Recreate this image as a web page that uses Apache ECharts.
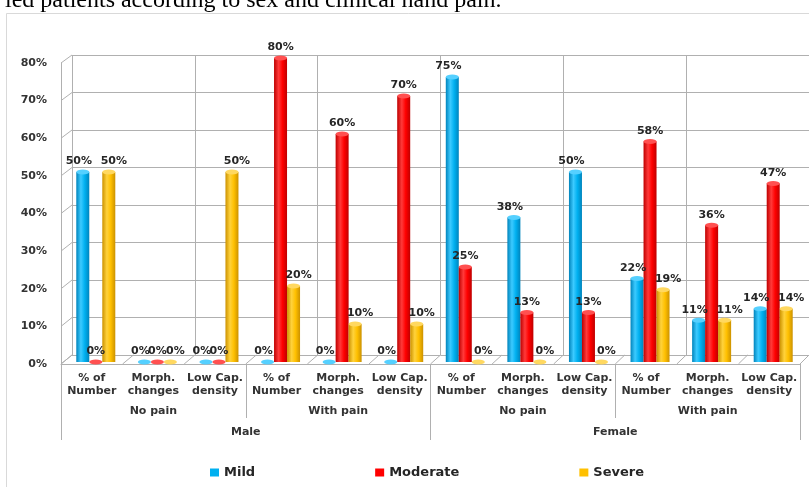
<!DOCTYPE html>
<html>
<head>
<meta charset="utf-8">
<script src="https://cdn.jsdelivr.net/npm/echarts@6/dist/echarts.min.js"></script>
<style>
html,body{margin:0;padding:0;background:#fff;}
#chart{width:809px;height:487px;}
</style>
</head>
<body>
<div id="chart"></div>
<script>
// ---- data ----
const categories = ['% of\nNumber','Morph.\nchanges','Low Cap.\ndensity',
                    '% of\nNumber','Morph.\nchanges','Low Cap.\ndensity',
                    '% of\nNumber','Morph.\nchanges','Low Cap.\ndensity',
                    '% of\nNumber','Morph.\nchanges','Low Cap.\ndensity'];
const painGroups = ['No pain','With pain','No pain','With pain'];
const sexGroups = ['Male','Female'];
const seriesNames = ['Mild','Moderate','Severe'];
const mild     = [50, 0, 0,   0,  0,  0,  75, 38, 50,  22, 11, 14];
const moderate = [ 0, 0, 0,  80, 60, 70,  25, 13, 13,  58, 36, 47];
const severe   = [50, 0, 50, 20, 10, 10,   0,  0,  0,  19, 11, 14];
const yMin = 0, yMax = 80, yStep = 10;
const titleText = 'led patients according to sex and clinical hand pain.';

// ---- style ----
const FONT = '"DejaVu Sans", Verdana, sans-serif';
const GRID_COLOR = '#b0b0b0';
const colors = {
  Mild:     {base:'#00b0f0', dark:'#0084bc', light:'#3ccaff', top:'#55d0ff'},
  Moderate: {base:'#ff0000', dark:'#bf0000', light:'#ff3a3a', top:'#ff5050'},
  Severe:   {base:'#ffc000', dark:'#cc9200', light:'#ffd23c', top:'#ffd860'}
};
function cyl(c){
  return new echarts.graphic.LinearGradient(0,0,1,0,[
    {offset:0,color:c.dark},{offset:0.35,color:c.light},
    {offset:0.65,color:c.base},{offset:1,color:c.dark}]);
}
const values = [mild, moderate, severe];
const labelOffsets = [[-4,0],[0,0],[5,0]];

const chart = echarts.init(document.getElementById('chart'), null, {renderer:'canvas'});

const series = [];
seriesNames.forEach((name, i) => {
  series.push({
    name: name, type:'bar', xAxisIndex:0, yAxisIndex:0,
    data: values[i], barWidth:13, barGap:'0%',
    itemStyle:{color: cyl(colors[name])},
    label:{show:true, position:'top', distance:5, offset:labelOffsets[i],
      formatter: p => p.value + '%', fontFamily:FONT, fontWeight:'bold', fontSize:11, color:'#262626'},
    z:2
  });
});
seriesNames.forEach((name, i) => {
  series.push({
    name: name + ' cap', type:'pictorialBar', xAxisIndex:0, yAxisIndex:0,
    data: values[i], symbol:'circle', symbolSize:[13,5], symbolPosition:'end',
    symbolOffset:[0,'-50%'], barGap:'0%', barWidth:13,
    itemStyle:{color: colors[name].top}, z:3, silent:true
  });
});

const option = {
  animation:false,
  backgroundColor:'#fff',
  grid:[
    {left:65, top:58, width:739, height:304},   // bars (mid depth)
    {left:72, top:55, width:739, height:300},   // back wall
    {left:61, top:63, width:739, height:301}    // front (axes / labels)
  ],
  legend:{
    left:205, top:461, itemWidth:9, itemHeight:8, itemGap:120, icon:'rect',
    textStyle:{fontFamily:FONT, fontWeight:'bold', fontSize:13, color:'#262626'},
    data: seriesNames.map(n => ({name:n, itemStyle:{color:colors[n].base}}))
  },
  xAxis:[
    {gridIndex:0, type:'category', data:categories, show:false},
    {gridIndex:1, type:'category', data:categories, axisLine:{show:false}, axisTick:{show:false},
      axisLabel:{show:false}, splitLine:{show:true, lineStyle:{color:GRID_COLOR, width:1}}},
    {gridIndex:2, type:'category', position:'bottom', data:categories,
      axisLine:{show:true, lineStyle:{color:GRID_COLOR}}, axisTick:{show:false},
      axisLabel:{interval:0, margin:8, lineHeight:13, fontFamily:FONT, fontWeight:'bold', fontSize:11, color:'#333333'}},
    {gridIndex:2, type:'category', position:'bottom', data:painGroups,
      axisLine:{show:false}, axisTick:{show:true, length:54, lineStyle:{color:GRID_COLOR}},
      axisLabel:{interval:0, margin:42, fontFamily:FONT, fontWeight:'bold', fontSize:11, color:'#333333'}},
    {gridIndex:2, type:'category', position:'bottom', data:sexGroups,
      axisLine:{show:false}, axisTick:{show:true, length:76, lineStyle:{color:GRID_COLOR}},
      axisLabel:{interval:0, margin:63, fontFamily:FONT, fontWeight:'bold', fontSize:11, color:'#333333'}}
  ],
  yAxis:[
    {gridIndex:0, type:'value', min:yMin, max:yMax, interval:yStep, show:false},
    {gridIndex:1, type:'value', min:yMin, max:yMax, interval:yStep, axisLine:{show:false}, axisTick:{show:false},
      axisLabel:{show:false}, splitLine:{show:true, lineStyle:{color:GRID_COLOR, width:1}}},
    {gridIndex:2, type:'value', min:yMin, max:yMax, interval:yStep,
      axisLine:{show:true, lineStyle:{color:GRID_COLOR}}, axisTick:{show:false}, splitLine:{show:false},
      axisLabel:{margin:14, formatter:'{value}%', fontFamily:FONT, fontWeight:'bold', fontSize:11, color:'#333333'}}
  ],
  series: series
};
chart.setOption(option);

// ---- 3D wall / floor edges derived from the axes ----
const g = [];
g.push({type:'text', x:5, y:1, silent:true,
  style:{text:titleText, font:'24px "Liberation Serif", "Times New Roman", serif', fill:'#000', verticalAlign:'middle', align:'left'}});
g.push({type:'rect', shape:{x:6.5, y:13.5, width:830, height:500}, silent:true, z:-10,
  style:{fill:'none', stroke:'#d9d9d9', lineWidth:1}});
const yF = v => chart.convertToPixel({yAxisIndex:2}, v);
const yB = v => chart.convertToPixel({yAxisIndex:1}, v);
const xF0 = chart.convertToPixel({xAxisIndex:2}, 0), xF1 = chart.convertToPixel({xAxisIndex:2}, 1);
const xB0 = chart.convertToPixel({xAxisIndex:1}, 0), xB1 = chart.convertToPixel({xAxisIndex:1}, 1);
const bandF = xF1 - xF0, bandB = xB1 - xB0;
const lineStyle = {stroke:GRID_COLOR, lineWidth:1};
for (let v = yMin; v <= yMax; v += yStep) {
  g.push({type:'line', silent:true, shape:{x1:xF0 - bandF/2, y1:yF(v), x2:xB0 - bandB/2, y2:yB(v)}, style:lineStyle});
}
for (let k = 0; k <= categories.length; k++) {
  g.push({type:'line', silent:true,
    shape:{x1:xF0 - bandF/2 + k*bandF, y1:yF(yMin), x2:xB0 - bandB/2 + k*bandB, y2:yB(yMin)}, style:lineStyle});
}
chart.setOption({graphic:g});
</script>
</body>
</html>
